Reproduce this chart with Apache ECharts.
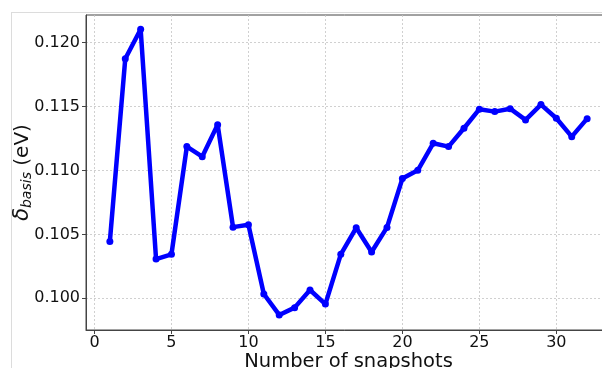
<!DOCTYPE html>
<html>
<head>
<meta charset="utf-8">
<script src="https://cdn.jsdelivr.net/npm/echarts@6/dist/echarts.min.js"></script>
<style>html,body{margin:0;padding:0;background:#fff}#c{width:602px;height:368px}</style>
</head>
<body>
<div id="c"></div>
<script>
var snapshots = [1,2,3,4,5,6,7,8,9,10,11,12,13,14,15,16,17,18,19,20,21,22,23,24,25,26,27,28,29,30,31,32];
var deltaBasis = [0.10445,0.11875,0.12105,0.10307,0.10344,0.11187,0.11108,0.11359,0.10557,0.10575,
  0.10034,0.09870,0.09927,0.10065,0.09955,0.10344,0.10552,0.10362,0.10555,0.10937,
  0.11002,0.11213,0.11187,0.11331,0.11480,0.11461,0.11484,0.11396,0.11516,0.11409,
  0.11265,0.11406];
var xTicks = [0,5,10,15,20,25,30];
var yTicks = [0.100,0.105,0.110,0.115,0.120];

var font = 'DejaVu Sans';
var chart = echarts.init(document.getElementById('c'), null, {renderer:'canvas'});
var data = snapshots.map(function(x,i){return [x, deltaBasis[i]];});
chart.setOption({
  animation:false,
  backgroundColor:'#fff',
  graphic:[
    {type:'line', shape:{x1:11.5,y1:12,x2:11.5,y2:368}, style:{stroke:'#dcdcdc',lineWidth:1}},
    {type:'line', shape:{x1:11,y1:12.5,x2:602,y2:12.5}, style:{stroke:'#dcdcdc',lineWidth:1}}
  ],
  grid:{left:86, top:15, width:525, height:315, containLabel:false, outerBoundsMode:'none',
    show:true, borderColor:'#444', borderWidth:1, backgroundColor:'#fff'},
  xAxis:{
    type:'value', min:-0.55, max:33.55,
    name:'Number of snapshots', nameLocation:'middle', nameGap:22, nameMoveOverlap:false,
    nameTextStyle:{fontFamily:font, fontSize:19.5, color:'#111'},
    axisLine:{show:true, onZero:false, lineStyle:{color:'#444', width:1}},
    axisTick:{show:true, length:4, inside:false, customValues:xTicks, lineStyle:{color:'#444'}},
    axisLabel:{customValues:xTicks, margin:5, fontFamily:font, fontSize:16, color:'#111'},
    splitLine:{show:true, lineStyle:{color:'#c4c4c4', type:[2,2], width:0.8}}
  },
  yAxis:{
    type:'value', min:0.09752, max:0.12217,
    name:'{d|δ}{s|basis}{n| (eV)}', nameLocation:'middle', nameRotate:90, nameGap:52, nameMoveOverlap:false,
    nameTextStyle:{fontFamily:font, fontSize:20, color:'#111',
      rich:{
        d:{fontFamily:font, fontSize:21, fontStyle:'italic', color:'#111'},
        s:{fontFamily:font, fontSize:14, fontStyle:'italic', color:'#111', padding:[9,0,0,0]},
        n:{fontFamily:font, fontSize:20, color:'#111'}
      }},
    axisLine:{show:true, onZero:false, lineStyle:{color:'#444', width:1}},
    axisTick:{show:true, length:4, inside:false, customValues:yTicks, lineStyle:{color:'#444'}},
    axisLabel:{customValues:yTicks, margin:6, fontFamily:font, fontSize:16, color:'#111',
      formatter:function(v){return v.toFixed(3);}},
    splitLine:{show:true, lineStyle:{color:'#c4c4c4', type:[2,2], width:0.8}}
  },
  series:[{
    type:'line', data:data, symbol:'circle', symbolSize:7,
    lineStyle:{color:'#0000ff', width:4.5},
    itemStyle:{color:'#0000ff'},
    clip:false
  }]
});
</script>
</body>
</html>
